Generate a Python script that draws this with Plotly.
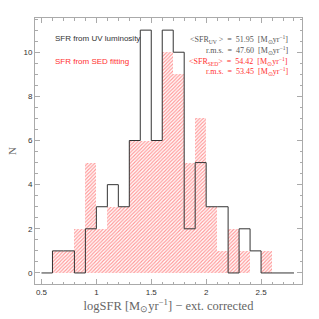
import plotly.graph_objects as go

bin_left = [0.5, 0.6, 0.7, 0.8, 0.9, 1.0, 1.1, 1.2, 1.3, 1.4, 1.5, 1.6, 1.7,
            1.8, 1.9, 2.0, 2.1, 2.2, 2.3, 2.4, 2.5, 2.6, 2.7]
bin_width = 0.1
n_uv = [0, 1, 1, 0, 2, 3, 4, 3, 6, 11, 6, 11, 10, 2, 5, 3, 3, 0, 2, 1, 0, 0, 0]
n_sed = [0, 1, 1, 2, 5, 2, 3, 3, 6, 6, 6, 10, 9, 5, 7, 3, 1, 2, 1, 0, 1, 0, 0]

label_uv = "SFR from UV luminosity"
label_sed = "SFR from SED fitting"
stats_uv = ["&lt;SFR<sub>UV</sub> &gt;  =  51.95  [M<sub>⊙</sub>yr<sup>−1</sup>]",
            "r.m.s.  =  47.60  [M<sub>⊙</sub>yr<sup>−1</sup>]"]
stats_sed = ["&lt;SFR<sub>SED</sub>&gt;  =  54.42  [M<sub>⊙</sub>yr<sup>−1</sup>]",
             "r.m.s.  =  53.45  [M<sub>⊙</sub>yr<sup>−1</sup>]"]

centers = [b + bin_width / 2 for b in bin_left]
edges = bin_left + [bin_left[-1] + bin_width]
step_y = n_uv + [n_uv[-1]]

fig = go.Figure()
fig.add_trace(go.Bar(
    x=centers, y=n_sed, width=bin_width,
    marker=dict(color="white", line=dict(width=0),
                pattern=dict(shape="/", fgcolor="#ff3030", bgcolor="white",
                             size=2.5, solidity=0.45)),
    showlegend=False, hoverinfo="skip"))
fig.add_trace(go.Scatter(
    x=edges, y=step_y, mode="lines", line=dict(shape="hv", color="#333333", width=1),
    showlegend=False, hoverinfo="skip"))

sans = "Liberation Sans, Arial, sans-serif"
serif = "Liberation Serif, Times New Roman, serif"

fig.add_annotation(x=0.606, y=10.63, xref="x", yref="y", text=label_uv, showarrow=False,
                   xanchor="left", font=dict(family=sans, size=8, color="#333333"))
fig.add_annotation(x=0.606, y=9.59, xref="x", yref="y", text=label_sed, showarrow=False,
                   xanchor="left", font=dict(family=sans, size=8, color="#ff3030"))
ys = [10.59, 10.1, 9.6, 9.13]
texts = stats_uv + stats_sed
cols = ["#555555", "#555555", "#ff3030", "#ff3030"]
for t, yv, c in zip(texts, ys, cols):
    fig.add_annotation(x=2.764, y=yv, xref="x", yref="y", text=t, showarrow=False,
                       xanchor="right", font=dict(family=serif, size=8, color=c))

axis_common = dict(showline=True, linecolor="#aaaaaa", linewidth=1, mirror="allticks",
                   ticks="inside", tickcolor="#aaaaaa", ticklen=5, showgrid=False,
                   zeroline=False, automargin=False,
                   tickfont=dict(family=sans, size=8, color="#333333"))
fig.update_xaxes(range=[0.441, 2.873], tickvals=[0.5, 1, 1.5, 2, 2.5],
                 ticktext=["0.5", "1", "1.5", "2", "2.5"],
                 minor=dict(dtick=0.1, tick0=0.5, ticks="inside", ticklen=2.5, tickcolor="#aaaaaa"),
                 title=dict(text="logSFR [M<sub>⊙</sub>yr<sup>−1</sup>] − ext. corrected",
                            font=dict(family=serif, size=12.5, color="#666666"), standoff=2),
                 **axis_common)
fig.update_yaxes(range=[-0.5, 11.55], tickvals=[0, 2, 4, 6, 8, 10],
                 minor=dict(dtick=0.5, tick0=0, ticks="inside", ticklen=2.5, tickcolor="#aaaaaa"),
                 title=dict(text="N", font=dict(family=serif, size=11, color="#666666"), standoff=4),
                 **axis_common)
fig.update_layout(width=319, height=319, margin=dict(l=35, r=17, t=18, b=35),
                  plot_bgcolor="white", paper_bgcolor="white", bargap=0)
fig.write_html("out.html", config={"displayModeBar": False},
               post_script="document.body.style.margin='0px';document.body.style.padding='0px';")
